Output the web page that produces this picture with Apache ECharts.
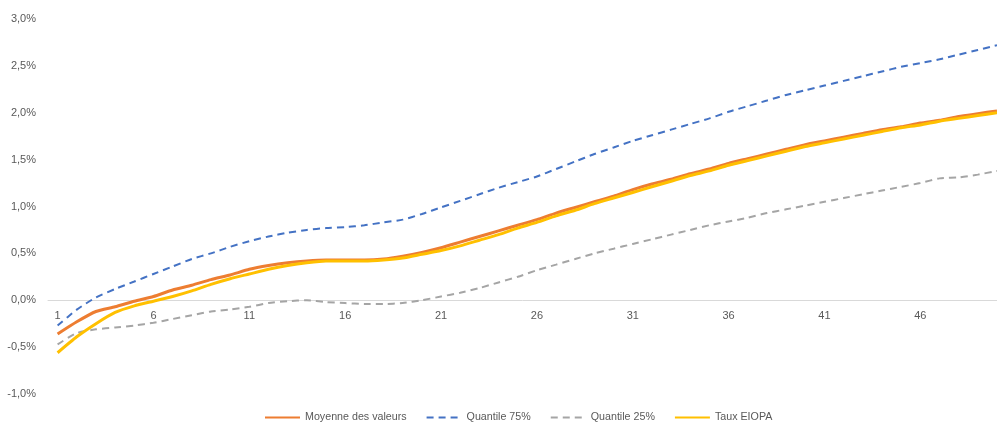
<!DOCTYPE html>
<html>
<head>
<meta charset="utf-8">
<script src="https://cdn.jsdelivr.net/npm/echarts@6/dist/echarts.min.js"></script>
<style>
html,body{margin:0;padding:0;background:#fff;}
#chart{width:997px;height:423px;}
</style>
</head>
<body>
<div id="chart"></div>
<script>
const categories = Array.from({length: 50}, (_, i) => String(i + 1));
const moyenne = [-0.36,-0.23,-0.12,-0.07,-0.01,0.04,0.11,0.16,0.22,0.27,0.33,0.37,0.40,0.42,0.43,0.43,0.43,0.44,0.47,0.51,0.56,0.62,0.68,0.74,0.80,0.86,0.93,0.99,1.05,1.11,1.18,1.24,1.29,1.35,1.40,1.46,1.51,1.56,1.61,1.66,1.70,1.74,1.78,1.82,1.85,1.89,1.92,1.96,1.99,2.02];
const quantile75 = [-0.27,-0.10,0.03,0.12,0.20,0.28,0.36,0.44,0.50,0.57,0.63,0.68,0.72,0.75,0.77,0.78,0.80,0.83,0.86,0.92,0.99,1.06,1.13,1.20,1.26,1.32,1.40,1.48,1.56,1.63,1.70,1.76,1.82,1.88,1.94,2.01,2.07,2.13,2.19,2.24,2.29,2.34,2.39,2.44,2.49,2.53,2.57,2.62,2.67,2.72];
const quantile25 = [-0.47,-0.35,-0.31,-0.29,-0.27,-0.24,-0.20,-0.16,-0.12,-0.10,-0.07,-0.03,-0.01,0.00,-0.02,-0.03,-0.04,-0.04,-0.03,0.00,0.04,0.08,0.13,0.19,0.25,0.32,0.38,0.44,0.50,0.55,0.60,0.65,0.70,0.75,0.80,0.84,0.88,0.93,0.97,1.01,1.05,1.09,1.13,1.17,1.21,1.25,1.30,1.31,1.34,1.38];
const tauxEIOPA = [-0.56,-0.39,-0.25,-0.13,-0.06,-0.01,0.04,0.10,0.17,0.23,0.28,0.33,0.37,0.40,0.42,0.42,0.42,0.43,0.45,0.49,0.53,0.58,0.64,0.70,0.77,0.83,0.90,0.96,1.03,1.09,1.15,1.21,1.27,1.33,1.38,1.44,1.49,1.54,1.59,1.64,1.68,1.72,1.76,1.80,1.84,1.87,1.91,1.94,1.97,2.00];
const seriesNames = ['Moyenne des valeurs','Quantile 75%','Quantile 25%','Taux EIOPA'];

const font = 'Liberation Sans, Arial, sans-serif';
const chart = echarts.init(document.getElementById('chart'), null, {renderer: 'canvas'});
function lineSeries(name, data, color, width, dashed) {
  return {
    name: name, type: 'line', data: data, symbol: 'none', smooth: 0.2,
    xAxisIndex: 1, yAxisIndex: 1,
    lineStyle: {color: color, width: width, type: dashed ? [7, 5] : 'solid', cap: 'butt'},
    itemStyle: {color: color}
  };
}
chart.setOption({
  animation: false,
  backgroundColor: '#ffffff',
  textStyle: {fontFamily: font},
  grid: [
    {left: 48, right: 0, top: 19, bottom: 29, containLabel: false},
    {left: 57.6, right: 0, top: 19, bottom: 29, containLabel: false}
  ],
  legend: {
    bottom: 0, left: 264, padding: 0, itemWidth: 35, itemHeight: 10, itemGap: 19,
    itemStyle: {opacity: 0},
    textStyle: {color: '#595959', fontSize: 10.7, fontFamily: font},
    data: seriesNames
  },
  xAxis: [
    {
      gridIndex: 0, type: 'value', min: 0, max: 1, offset: -93.75,
      axisLine: {show: true, onZero: false, lineStyle: {color: '#d9d9d9', width: 1}},
      axisTick: {show: false}, axisLabel: {show: false}, splitLine: {show: false}
    },
    {
      gridIndex: 1, type: 'category', data: categories, boundaryGap: false,
      offset: -93.75,
      axisLine: {show: false, onZero: false},
      axisTick: {show: false},
      axisLabel: {interval: 4, color: '#595959', fontSize: 11, margin: 10, fontFamily: font}
    }
  ],
  yAxis: [
    {
      gridIndex: 0, type: 'value', min: -1, max: 3, interval: 0.5,
      axisLine: {show: false}, axisTick: {show: false}, splitLine: {show: false},
      axisLabel: {color: '#595959', fontSize: 11, margin: 12, fontFamily: font,
        formatter: v => v.toFixed(1).replace('.', ',') + '%'}
    },
    {
      gridIndex: 1, type: 'value', min: -1, max: 3, interval: 0.5,
      axisLine: {show: false}, axisTick: {show: false}, splitLine: {show: false},
      axisLabel: {show: false}
    }
  ],
  series: [
    lineSeries(seriesNames[0], moyenne, '#ED7D31', 3, false),
    lineSeries(seriesNames[1], quantile75, '#4472C4', 2, true),
    lineSeries(seriesNames[2], quantile25, '#A5A5A5', 2, true),
    lineSeries(seriesNames[3], tauxEIOPA, '#FFC000', 3, false)
  ]
});
</script>
</body>
</html>
